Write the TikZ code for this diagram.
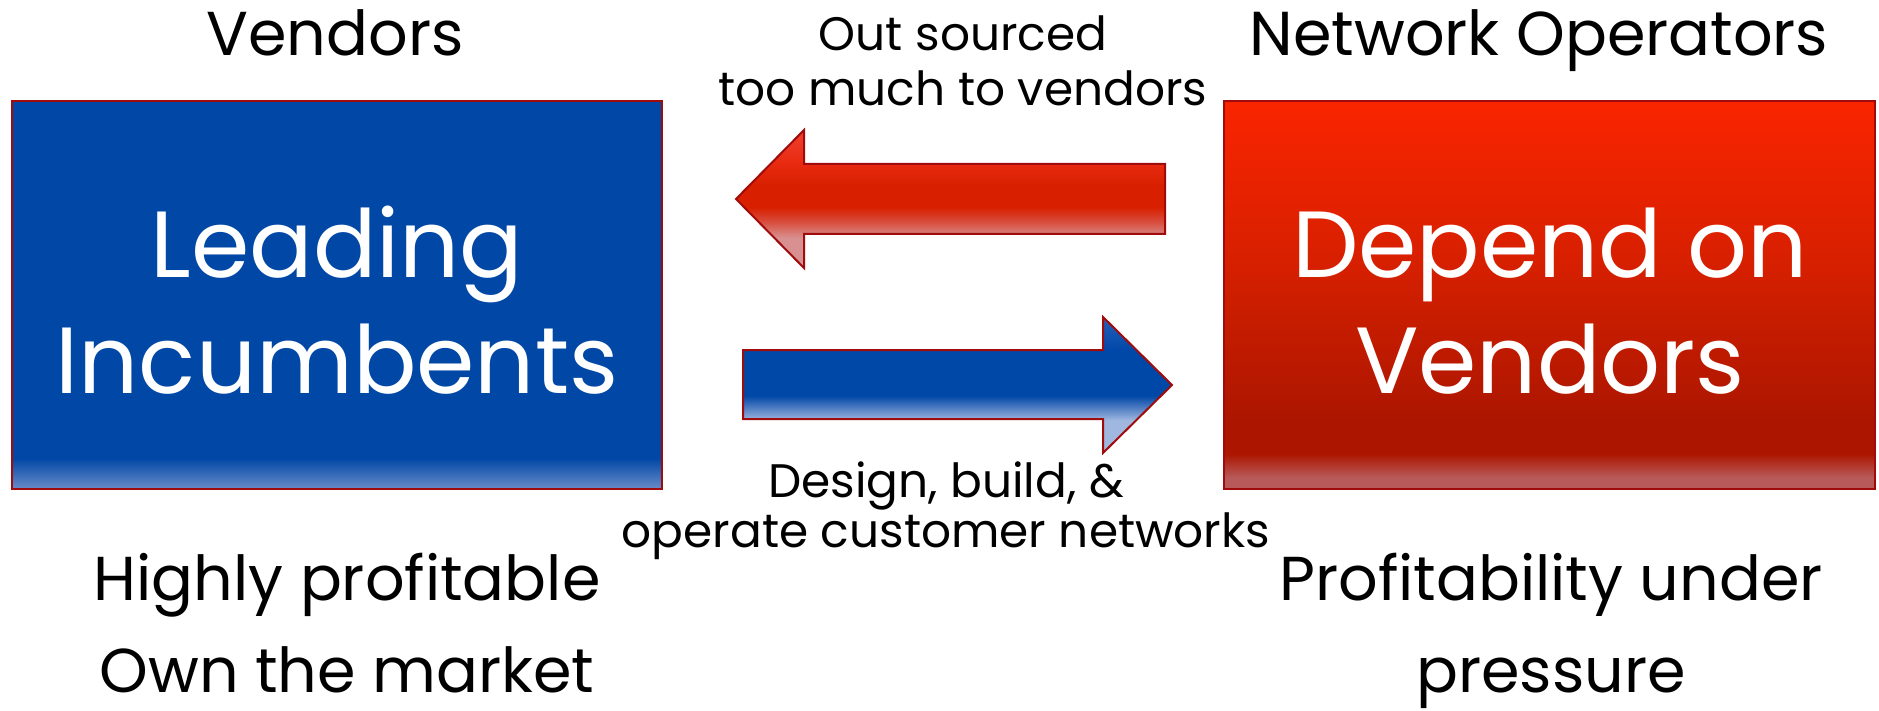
\documentclass[tikz,border=0pt]{standalone}
\usepackage{fontspec}
\setmainfont{Poppins}
\usetikzlibrary{calc}

\definecolor{boxblue}{HTML}{0047A6}
\definecolor{bandblue}{HTML}{6A8CC8}
\definecolor{redtop}{HTML}{FA2400}
\definecolor{redmid}{HTML}{D82000}
\definecolor{redlow}{HTML}{AC1600}
\definecolor{bandred}{HTML}{B85A5A}
\definecolor{rimred}{HTML}{A00C0C}
\definecolor{arrpinkA}{HTML}{D89090}
\definecolor{arrpinkB}{HTML}{D84A3A}
\definecolor{arrredA}{HTML}{E82A10}
\definecolor{arrredB}{HTML}{EE4030}
\definecolor{arrblueA}{HTML}{0048A8}
\definecolor{arrblueB}{HTML}{2860B8}
\definecolor{arrpaleA}{HTML}{A0B8E0}
\definecolor{arrpaleB}{HTML}{4A78C0}

% vertical shadings: positions run bottom (25bp) to top (75bp) of the filled path
\pgfdeclareverticalshading{leadshade}{100bp}{color(0bp)=(bandblue); color(25bp)=(bandblue); color(29bp)=(boxblue); color(100bp)=(boxblue)}
\pgfdeclareverticalshading{dependshade}{100bp}{color(0bp)=(bandred); color(26.5bp)=(bandred); color(29.5bp)=(redlow); color(34bp)=(redlow); color(55bp)=(redmid); color(75bp)=(redtop); color(100bp)=(redtop)}
\pgfdeclareverticalshading{backshade}{100bp}{color(0bp)=(arrpinkA); color(36bp)=(arrpinkA); color(42bp)=(arrpinkB); color(47bp)=(redmid); color(55bp)=(redmid); color(63bp)=(arrredA); color(75bp)=(arrredB); color(100bp)=(arrredB)}
\pgfdeclareverticalshading{fwdshade}{100bp}{color(0bp)=(arrpaleA); color(37bp)=(arrpaleA); color(42bp)=(arrpaleB); color(46bp)=(arrblueA); color(63bp)=(arrblueA); color(75bp)=(arrblueB); color(100bp)=(arrblueB)}

\tikzset{
  panel/.style={draw=rimred, line width=2pt, minimum height=388pt, inner sep=0pt},
  blockarrow/.style={draw=rimred, line width=2pt, line join=miter},
  heading/.style={font=\fontsize{62}{62}\selectfont, anchor=base, inner sep=0pt},
  arrowlabel/.style={font=\fontsize{47}{47}\selectfont, anchor=base, inner sep=0pt},
  paneltext/.style={font=\fontsize{94}{94}\selectfont, text=white, anchor=base, inner sep=0pt},
  note/.style={font=\fontsize{62}{62}\selectfont, anchor=base, inner sep=0pt},
}

\begin{document}
\begin{tikzpicture}[x=1pt, y=-1pt]
\useasboundingbox (0,0) rectangle (1879,711);

% the two panels
\node[panel, minimum width=650pt, shading=leadshade] (lead) at (337,295) {};
\node[panel, minimum width=651pt, shading=dependshade] (depend) at (1549.5,295) {};

% block arrows between the panels
\coordinate (backtip) at (736,199);
\coordinate (fwdtip) at (1172,385);
\draw[blockarrow, shading=backshade]
  (backtip) -- (804,130) -- (804,164) -- (1165,164) -- (1165,234) -- (804,234) -- (804,268) -- cycle;
\draw[blockarrow, shading=fwdshade]
  (743,350) -- (1103,350) -- (1103,317) -- (fwdtip) -- (1103,453) -- (1103,419) -- (743,419) -- cycle;

% headings
\node[heading] (vend) at (335,56) {Vendors};
\node[heading] (netop) at (1539,56) {Network Operators};

% arrow labels
\node[arrowlabel] (out1) at (963,51) {Out sourced};
\node[arrowlabel] (out2) at (963,106) {too much to vendors};
\node[arrowlabel] (des1) at (946,497) {Design, build, \&};
\node[arrowlabel] (des2) at (946,547) {operate customer networks};

% panel texts
\node[paneltext] (lead1) at (337,278) {Leading};
\node[paneltext] (lead2) at (337,393) {Incumbents};
\node[paneltext] (dep1) at (1550,278) {Depend on};
\node[paneltext] (dep2) at (1550,393) {Vendors};

% notes under the panels
\node[note] (hp) at (347,600) {Highly profitable};
\node[note] (own) at (347,692) {Own the market};
\node[note] (pu) at (1551,600) {Profitability under};
\node[note] (pr) at (1551,692) {pressure};
\end{tikzpicture}
\end{document}
